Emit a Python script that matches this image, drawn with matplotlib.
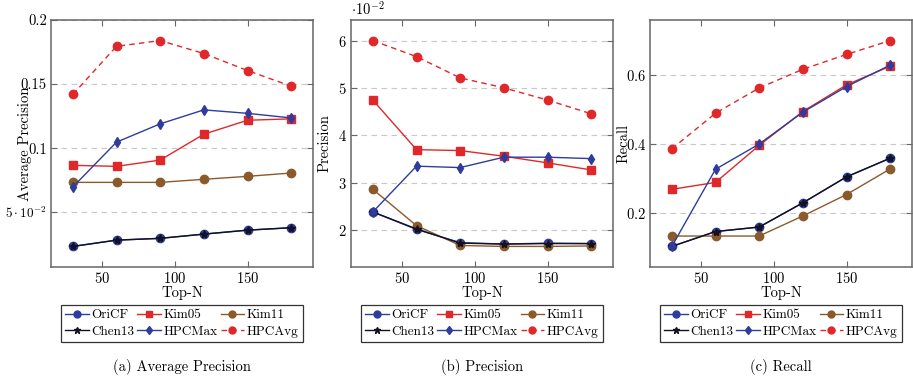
import matplotlib
matplotlib.use("Agg")
import matplotlib.pyplot as plt
from matplotlib.lines import Line2D

plt.rcParams["font.family"] = ["cmr10"]
plt.rcParams["mathtext.fontset"] = "cm"
plt.rcParams["axes.unicode_minus"] = False
plt.rcParams["axes.formatter.use_mathtext"] = True

# data
topn = [30, 60, 90, 120, 150, 180]
methods = ["OriCF", "Kim05", "Kim11", "Chen13", "HPCMax", "HPCAvg"]

ap = {
    "OriCF":  [0.0233, 0.0282, 0.0296, 0.0329, 0.0360, 0.0379],
    "Kim05":  [0.0866, 0.0858, 0.0907, 0.1109, 0.1218, 0.1229],
    "Kim11":  [0.0733, 0.0733, 0.0733, 0.0757, 0.0780, 0.0806],
    "Chen13": [0.0233, 0.0282, 0.0296, 0.0329, 0.0360, 0.0379],
    "HPCMax": [0.0697, 0.1047, 0.1190, 0.1299, 0.1272, 0.1236],
    "HPCAvg": [0.1420, 0.1795, 0.1840, 0.1739, 0.1606, 0.1484],
}
prec = {  # x 10^-2
    "OriCF":  [2.38, 2.01, 1.73, 1.70, 1.72, 1.71],
    "Kim05":  [4.75, 3.70, 3.68, 3.56, 3.42, 3.27],
    "Kim11":  [2.86, 2.09, 1.67, 1.65, 1.65, 1.66],
    "Chen13": [2.38, 2.02, 1.72, 1.70, 1.71, 1.71],
    "HPCMax": [2.38, 3.35, 3.32, 3.54, 3.54, 3.51],
    "HPCAvg": [6.01, 5.67, 5.22, 5.01, 4.75, 4.46],
}
recall = {
    "OriCF":  [0.104, 0.147, 0.160, 0.230, 0.305, 0.359],
    "Kim05":  [0.269, 0.289, 0.396, 0.494, 0.571, 0.625],
    "Kim11":  [0.134, 0.134, 0.134, 0.192, 0.254, 0.328],
    "Chen13": [0.104, 0.147, 0.160, 0.230, 0.305, 0.359],
    "HPCMax": [0.104, 0.327, 0.400, 0.492, 0.566, 0.628],
    "HPCAvg": [0.386, 0.489, 0.562, 0.616, 0.659, 0.699],
}

ap_ticks = [0.05, 0.1, 0.15, 0.2]
ap_labels = [r"$5\cdot10^{-2}$", "0.1", "0.15", "0.2"]
prec_ticks = [2, 3, 4, 5, 6]
recall_ticks = [0.2, 0.4, 0.6]
x_ticks = [50, 100, 150]

blue = "#2f3c9e"
red = "#e0282a"
brown = "#8b5a2b"
style = {
    "OriCF":  dict(color=blue, marker="o", ms=6, ls="-"),
    "Kim05":  dict(color=red, marker="s", ms=6, ls="-"),
    "Kim11":  dict(color=brown, marker="o", ms=6, ls="-"),
    "Chen13": dict(color="#111122", marker="*", ms=6, ls="-"),
    "HPCMax": dict(color=blue, marker="d", ms=5.5, ls="-"),
    "HPCAvg": dict(color=red, marker="o", ms=6, ls=(0, (4, 3))),
}

panels = [
    (ap, "Average Precision", "(a) Average Precision"),
    (prec, "Precision", "(b) Precision"),
    (recall, "Recall", "(c) Recall"),
]
lefts = [51, 351, 650]
ax_w, ax_top, ax_bot = 262, 20, 267
W, H = 913, 379

fig = plt.figure(figsize=(9.13, 3.79), dpi=100)

for i, (data, ylab, cap) in enumerate(panels):
    ax = fig.add_axes([lefts[i] / W, 1 - ax_bot / H, ax_w / W, (ax_bot - ax_top) / H])
    for m in methods:
        st = style[m]
        ax.plot(topn, data[m], color=st["color"], ls=st["ls"], lw=1.0,
                marker=st["marker"], ms=st["ms"], mec=st["color"], label=m)
    ax.margins(x=0.1, y=0.1)
    ax.set_xticks(x_ticks)
    ax.tick_params(direction="in", top=True, right=True, length=4,
                   color="#666666", labelsize=10.5, pad=3)
    if i == 0:
        ax.set_yticks(ap_ticks)
        ax.set_yticklabels(ap_labels)
        ax.get_yticklabels()[0].set_fontsize(9.5)
    elif i == 1:
        ax.set_yticks(prec_ticks)
        ax.text(0.0, 1.022, r"$\cdot10^{-2}$", transform=ax.transAxes,
                fontsize=10.5, ha="left", va="baseline")
    else:
        ax.set_yticks(recall_ticks)
    ax.yaxis.grid(True, color="#c8c8c8", ls=(0, (5, 4)), lw=0.8)
    ax.set_axisbelow(True)
    for s in ax.spines.values():
        s.set_color("#666666")
        s.set_linewidth(1.1)
    ax.set_xlabel("Top-N", fontsize=10.5, labelpad=0)
    ax.set_ylabel(ylab, fontsize=10.5)
    ax.yaxis.set_label_coords(-0.073, 0.5)

    handles = [Line2D([], [], color=style[m]["color"], ls=style[m]["ls"], lw=1.0,
                      marker=style[m]["marker"], ms=style[m]["ms"] - 1)
               for m in methods]
    order = [0, 3, 1, 4, 2, 5]
    cx = (lefts[i] + ax_w / 2) / W
    leg = fig.legend([handles[k] for k in order], [methods[k] for k in order],
                     loc="upper center", bbox_to_anchor=(cx, 1 - 305 / H),
                     ncol=3, fontsize=9.5, frameon=True, fancybox=False,
                     edgecolor="black", handlelength=1.8, handletextpad=0.2,
                     columnspacing=0.2, labelspacing=0.35, borderpad=0.3,
                     borderaxespad=0)
    leg.get_frame().set_linewidth(0.9)
    fig.text(cx, 1 - 367 / H, cap, ha="center", va="center", fontsize=10.5)

fig.savefig("out.png", dpi=100)
